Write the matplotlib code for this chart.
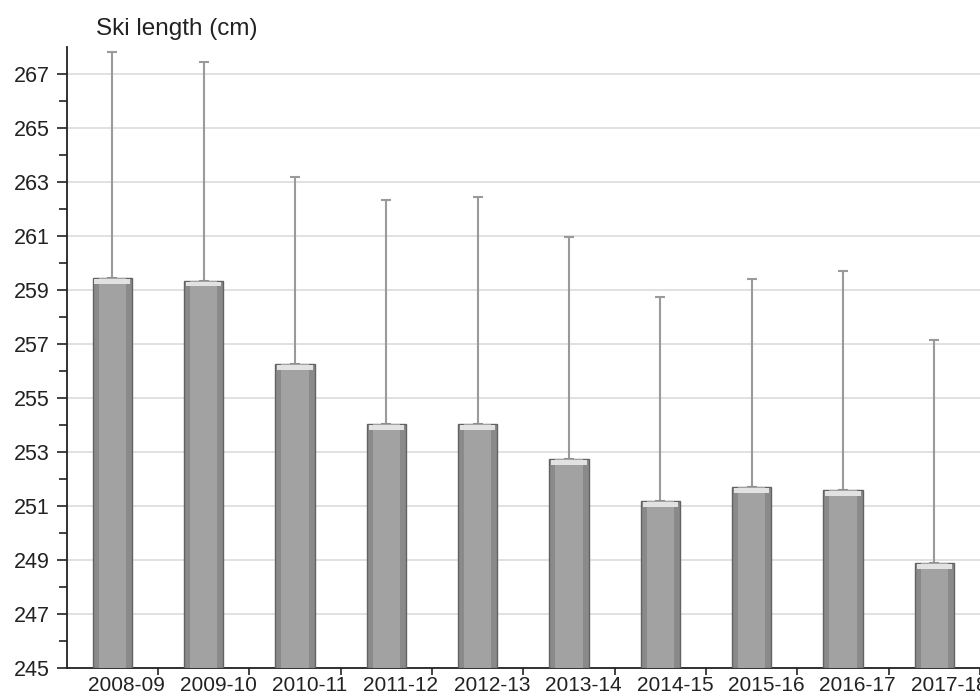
import matplotlib
matplotlib.use("Agg")
from matplotlib import pyplot as plt
import numpy as np

plt.rcParams['font.family'] = ['Liberation Sans', 'DejaVu Sans']

seasons = ["2008-09", "2009-10", "2010-11", "2011-12", "2012-13",
           "2013-14", "2014-15", "2015-16", "2016-17", "2017-18"]
mean_len = [259.45, 259.35, 256.25, 254.05, 254.05, 252.75, 251.2, 251.7, 251.6, 248.9]
upper_len = [267.8, 267.45, 263.2, 262.35, 262.45, 260.95, 258.75, 259.4, 259.7, 257.15]

x = np.arange(len(seasons))
mean_arr = np.array(mean_len)
err_up = np.array(upper_len) - mean_arr
base = 245

fig = plt.figure(figsize=(9.8, 6.97), dpi=100)
ax = fig.add_axes([0.068, 0.0416, 0.932, 0.891])

# bars with a simple bevel look
ax.bar(x, mean_arr - base, bottom=base, width=0.43, color="#8a8a8a",
       edgecolor="#626262", linewidth=1.0, zorder=3)
ax.bar(x, mean_arr - base, bottom=base, width=0.30, color="#a2a2a2",
       linewidth=0, zorder=3)
ax.bar(x, 0.18, bottom=mean_arr - 0.22, width=0.39, color="#e2e2e2",
       linewidth=0, zorder=4)

# upper error bars only
ax.errorbar(x, mean_arr, yerr=[np.zeros(len(x)), err_up], fmt="none",
            ecolor="#9a9a9a", elinewidth=1.5, capsize=3.5, capthick=1.5, zorder=2)

ax.set_ylim(245, 268)
ax.set_xlim(-0.5, 9.4)
ax.set_yticks(range(245, 268, 2))
ax.set_yticks(range(246, 268, 2), minor=True)
ax.tick_params(axis="y", which="major", labelsize=15.5, length=7, width=1.2,
               direction="out", colors="#222222", pad=5)
ax.tick_params(axis="y", which="minor", length=6, width=1.2, direction="out",
               colors="#222222")
ax.grid(axis="y", which="major", color="#dcdcdc", linewidth=1.2, zorder=0)

# category boundaries as ticks, labels slightly shifted
ax.set_xticks(np.arange(0.5, 10, 1))
ax.set_xticklabels([])
ax.set_xticks(x + 0.16, minor=True)
ax.set_xticklabels(seasons, minor=True, fontsize=15)
ax.tick_params(axis="x", which="major", length=5, width=1.2, direction="out",
               colors="#222222")
ax.tick_params(axis="x", which="minor", length=0, pad=6, colors="#222222")

for s in ["top", "right"]:
    ax.spines[s].set_visible(False)
for s in ["left", "bottom"]:
    ax.spines[s].set_color("#222222")
    ax.spines[s].set_linewidth(1.3)

fig.text(96 / 980, 1 - 35 / 697, "Ski length (cm)", fontsize=17.5,
         ha="left", va="baseline", color="#222222")

fig.savefig("out.png", dpi=100)
